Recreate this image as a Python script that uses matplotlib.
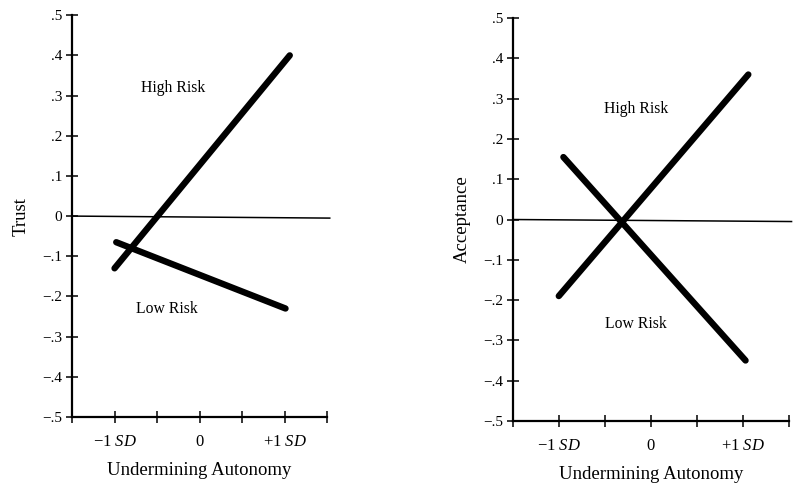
import matplotlib
matplotlib.use('agg')
import matplotlib.pyplot as plt
from matplotlib.ticker import FixedLocator, FuncFormatter

plt.rcParams['font.family'] = ['Liberation Serif', 'DejaVu Serif']
plt.rcParams['mathtext.fontset'] = 'custom'
plt.rcParams['mathtext.rm'] = 'Liberation Serif'
plt.rcParams['mathtext.it'] = 'Liberation Serif:italic'

# data (x in SD units)
trust_high_x = [-1.0, 1.06]
trust_high_y = [-0.13, 0.40]
trust_low_x = [-0.98, 1.01]
trust_low_y = [-0.065, -0.23]

accept_high_x = [-1.0, 1.06]
accept_high_y = [-0.19, 0.36]
accept_low_x = [-0.95, 1.03]
accept_low_y = [0.155, -0.35]

y_ticks = [0.5, 0.4, 0.3, 0.2, 0.1, 0, -0.1, -0.2, -0.3, -0.4, -0.5]
x_ticks = [-1.5, -1.0, -0.5, 0, 0.5, 1.0, 1.5]
x_labels = {-1.0: r'$-1\ \mathit{SD}$', 0: '0', 1.0: r'$+1\ \mathit{SD}$'}


def fmt_y(v, pos):
    if abs(v) < 1e-9:
        return '0'
    s = ('%.1f' % abs(v)).lstrip('0')
    return ('\u2212' + s) if v < 0 else s


def fmt_x(v, pos):
    for k, lab in x_labels.items():
        if abs(v - k) < 1e-9:
            return lab
    return ''


def panel(ax, ylabel, hx, hy, lx, ly, high_pos, low_pos):
    ax.plot(hx, hy, color='black', lw=4.6, solid_capstyle='round')
    ax.plot(lx, ly, color='black', lw=4.6, solid_capstyle='round')
    ax.plot([-1.5, 1.53], [0, -0.005], color='black', lw=1.1, clip_on=False)
    ax.text(high_pos[0], high_pos[1], 'High Risk', ha='center', va='center', fontsize=11.3)
    ax.text(low_pos[0], low_pos[1], 'Low Risk', ha='center', va='center', fontsize=11.3)

    ax.set_xlim(-1.5, 1.5)
    ax.set_ylim(-0.5, 0.5)
    for s in ['top', 'right']:
        ax.spines[s].set_visible(False)
    for s in ['left', 'bottom']:
        ax.spines[s].set_linewidth(1.6)
    ax.yaxis.set_major_locator(FixedLocator(y_ticks))
    ax.yaxis.set_major_formatter(FuncFormatter(fmt_y))
    ax.xaxis.set_major_locator(FixedLocator(x_ticks))
    ax.xaxis.set_major_formatter(FuncFormatter(fmt_x))
    ax.tick_params(direction='inout', length=8, width=1.1, labelsize=11, pad=3)
    ax.tick_params(axis='x', pad=8, labelsize=12)
    ax.set_ylabel(ylabel, fontsize=13.5, labelpad=9)
    ax.set_xlabel('Undermining Autonomy', fontsize=13.5, labelpad=9)


fig = plt.figure(figsize=(8, 4.9), dpi=100)
ax1 = fig.add_axes([0.09, 0.149, 0.319, 0.82])
ax2 = fig.add_axes([0.641, 0.141, 0.345, 0.822])

panel(ax1, 'Trust', trust_high_x, trust_high_y, trust_low_x, trust_low_y,
      (-0.31, 0.32), (-0.38, -0.23))
panel(ax2, 'Acceptance', accept_high_x, accept_high_y, accept_low_x, accept_low_y,
      (-0.16, 0.275), (-0.16, -0.26))

fig.savefig('out.png', dpi=100)
